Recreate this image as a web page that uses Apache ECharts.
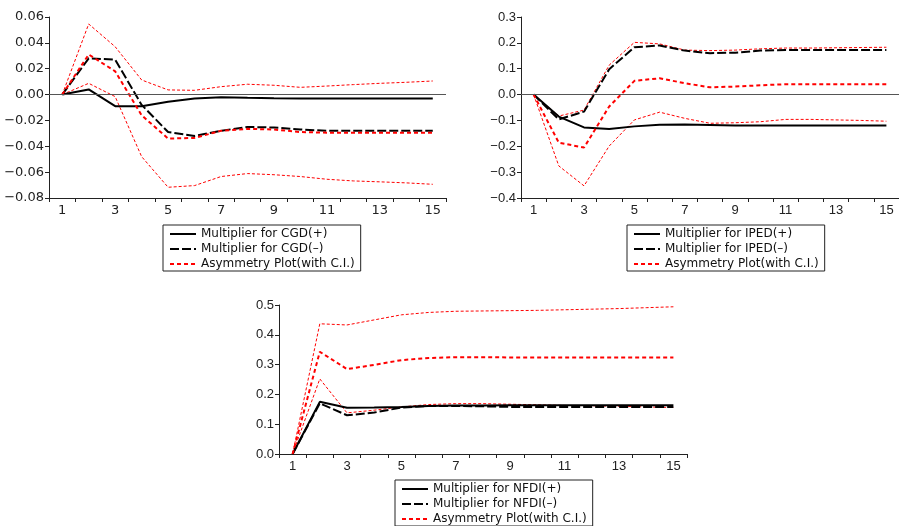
<!DOCTYPE html>
<html lang="en">
    <head>
        <meta charset="UTF-8" />
        <title>Asymmetric multipliers</title>
        <script src="https://cdn.jsdelivr.net/npm/echarts@6/dist/echarts.min.js"></script>
        <style>
            body {
                margin: 0;
                padding: 0;
                background: #fff;
            }
            #chart {
                width: 899px;
                height: 526px;
            }
        </style>
    </head>
    <body>
        <div id="chart"></div>
        <script>
            let horizons = ['1', '2', '3', '4', '5', '6', '7', '8', '9', '10', '11', '12', '13', '14', '15'];

            // CGD panel
            let cgdPos = [0, 0.004, -0.009, -0.009, -0.0055, -0.003, -0.002, -0.0025, -0.0028, -0.003, -0.003, -0.003, -0.003, -0.003, -0.003];
            let cgdNeg = [0, 0.028, 0.027, -0.008, -0.029, -0.032, -0.028, -0.025, -0.0255, -0.027, -0.028, -0.028, -0.028, -0.028, -0.028];
            let cgdAsym = [0, 0.031, 0.018, -0.016, -0.034, -0.0335, -0.028, -0.0265, -0.027, -0.029, -0.0295, -0.0295, -0.0295, -0.0295, -0.0295];
            let cgdUpper = [0, 0.0546, 0.037, 0.0113, 0.0036, 0.0033, 0.0061, 0.008, 0.0072, 0.0056, 0.0066, 0.0077, 0.0087, 0.0095, 0.0105];
            let cgdLower = [0, 0.0087, -0.0016, -0.048, -0.0717, -0.0704, -0.0634, -0.0611, -0.062, -0.0634, -0.0655, -0.0668, -0.0675, -0.0683, -0.0694];

            // IPED panel
            let ipedPos = [0, -0.085, -0.127, -0.133, -0.123, -0.117, -0.116, -0.118, -0.12, -0.12, -0.12, -0.12, -0.12, -0.12, -0.12];
            let ipedNeg = [0, -0.096, -0.066, 0.098, 0.183, 0.19, 0.17, 0.16, 0.162, 0.17, 0.172, 0.172, 0.172, 0.172, 0.172];
            let ipedAsym = [0, -0.186, -0.205, -0.046, 0.053, 0.063, 0.044, 0.028, 0.031, 0.036, 0.04, 0.04, 0.04, 0.04, 0.04];
            let ipedUpper = [0, -0.083, -0.06, 0.114, 0.202, 0.196, 0.172, 0.17, 0.172, 0.177, 0.18, 0.18, 0.181, 0.182, 0.183];
            let ipedLower = [0, -0.276, -0.353, -0.199, -0.098, -0.068, -0.092, -0.111, -0.109, -0.105, -0.096, -0.096, -0.098, -0.1, -0.103];

            // NFDI panel
            let nfdiPos = [0, 0.175, 0.155, 0.156, 0.158, 0.161, 0.163, 0.163, 0.164, 0.164, 0.164, 0.164, 0.164, 0.164, 0.164];
            let nfdiNeg = [0, 0.17, 0.13, 0.139, 0.156, 0.161, 0.161, 0.16, 0.158, 0.158, 0.158, 0.158, 0.158, 0.158, 0.158];
            let nfdiAsym = [0, 0.343, 0.285, 0.299, 0.315, 0.322, 0.325, 0.325, 0.324, 0.324, 0.324, 0.324, 0.324, 0.324, 0.324];
            let nfdiUpper = [0, 0.437, 0.433, 0.45, 0.467, 0.475, 0.479, 0.48, 0.481, 0.482, 0.484, 0.486, 0.488, 0.491, 0.494];
            let nfdiLower = [0, 0.252, 0.138, 0.147, 0.158, 0.166, 0.169, 0.169, 0.167, 0.165, 0.163, 0.162, 0.16, 0.158, 0.156];

            let asymName = 'Asymmetry Plot(with C.I.)';

            let panels = [
                {
                    key: 'CGD', pos: cgdPos, neg: cgdNeg, asym: cgdAsym, upper: cgdUpper, lower: cgdLower,
                    grid: { left: 49, top: 17, width: 397, height: 181 },
                    min: -0.08, max: 0.06, interval: 0.02, digits: 2, font: 'DejaVu Sans', zeroLine: true,
                    legend: { left: 163, top: 225 }
                },
                {
                    key: 'IPED', pos: ipedPos, neg: ipedNeg, asym: ipedAsym, upper: ipedUpper, lower: ipedLower,
                    grid: { left: 521, top: 17, width: 382, height: 181 },
                    min: -0.4, max: 0.3, interval: 0.1, digits: 1, font: 'Liberation Sans', zeroLine: true,
                    legend: { left: 627, top: 225 }
                },
                {
                    key: 'NFDI', pos: nfdiPos, neg: nfdiNeg, asym: nfdiAsym, upper: nfdiUpper, lower: nfdiLower,
                    grid: { left: 279, top: 305, width: 408, height: 149 },
                    min: 0, max: 0.5, interval: 0.1, digits: 1, font: 'Liberation Sans', zeroLine: false,
                    legend: { left: 395, top: 480 }
                }
            ];

            function fmt(digits) {
                return function (v) {
                    let s = Math.abs(v).toFixed(digits);
                    return (v < -1e-9 ? '\u2212' : '') + s;
                };
            }

            let grids = [];
            let xAxes = [];
            let yAxes = [];
            let legends = [];
            let series = [];

            panels.forEach((p, i) => {
                grids.push(p.grid);
                xAxes.push({
                    type: 'category',
                    gridIndex: i,
                    data: horizons,
                    boundaryGap: true,
                    axisLine: { onZero: false, lineStyle: { color: '#222', width: 1 } },
                    axisTick: { show: true, interval: 0, length: 4, lineStyle: { color: '#222' } },
                    axisLabel: { interval: 1, color: '#222', fontSize: 13, fontFamily: p.font, margin: 6 },
                    splitLine: { show: false }
                });
                yAxes.push({
                    type: 'value',
                    gridIndex: i,
                    min: p.min,
                    max: p.max,
                    interval: p.interval,
                    axisLine: { show: true, lineStyle: { color: '#222', width: 1 } },
                    axisTick: { show: true, length: 4, lineStyle: { color: '#222' } },
                    axisLabel: { color: '#222', fontSize: 13, fontFamily: p.font, margin: 5, formatter: fmt(p.digits) },
                    splitLine: { show: false }
                });
                let posName = 'Multiplier for ' + p.key + '(+)';
                let negName = 'Multiplier for ' + p.key + '(\u2013)';
                legends.push({
                    left: p.legend.left,
                    top: p.legend.top,
                    orient: 'vertical',
                    data: [posName, negName, asymName],
                    selectedMode: false,
                    itemWidth: 26,
                    itemHeight: 12,
                    itemGap: 3,
                    padding: [3, 6, 1, 6],
                    borderColor: '#222',
                    borderWidth: 1,
                    itemStyle: { opacity: 0 },
                    textStyle: { fontFamily: 'DejaVu Sans', fontSize: 12, color: '#111' }
                });

                let base = { type: 'line', xAxisIndex: i, yAxisIndex: i, symbol: 'none', silent: true };
                series.push(Object.assign({}, base, {
                    name: 'Upper C.I. ' + p.key,
                    data: p.upper,
                    lineStyle: { color: '#ff0000', width: 1, type: [3, 2] },
                    markLine: p.zeroLine ? {
                        silent: true,
                        symbol: 'none',
                        label: { show: false },
                        lineStyle: { color: '#555', width: 1, type: 'solid' },
                        data: [{ yAxis: 0 }]
                    } : undefined
                }));
                series.push(Object.assign({}, base, {
                    name: 'Lower C.I. ' + p.key,
                    data: p.lower,
                    lineStyle: { color: '#ff0000', width: 1, type: [3, 2] }
                }));
                series.push(Object.assign({}, base, {
                    name: posName,
                    data: p.pos,
                    itemStyle: { color: '#000' },
                    lineStyle: { color: '#000', width: 2, type: 'solid' }
                }));
                series.push(Object.assign({}, base, {
                    name: negName,
                    data: p.neg,
                    itemStyle: { color: '#000' },
                    lineStyle: { color: '#000', width: 2, type: [9, 3] }
                }));
                series.push(Object.assign({}, base, {
                    name: asymName,
                    data: p.asym,
                    itemStyle: { color: '#ff0000' },
                    lineStyle: { color: '#ff0000', width: 2, type: [4, 3] }
                }));
            });

            let myChart = echarts.init(document.getElementById('chart'));
            myChart.setOption({
                animation: false,
                backgroundColor: '#fff',
                grid: grids,
                xAxis: xAxes,
                yAxis: yAxes,
                legend: legends,
                series: series
            });
        </script>
    </body>
</html>
